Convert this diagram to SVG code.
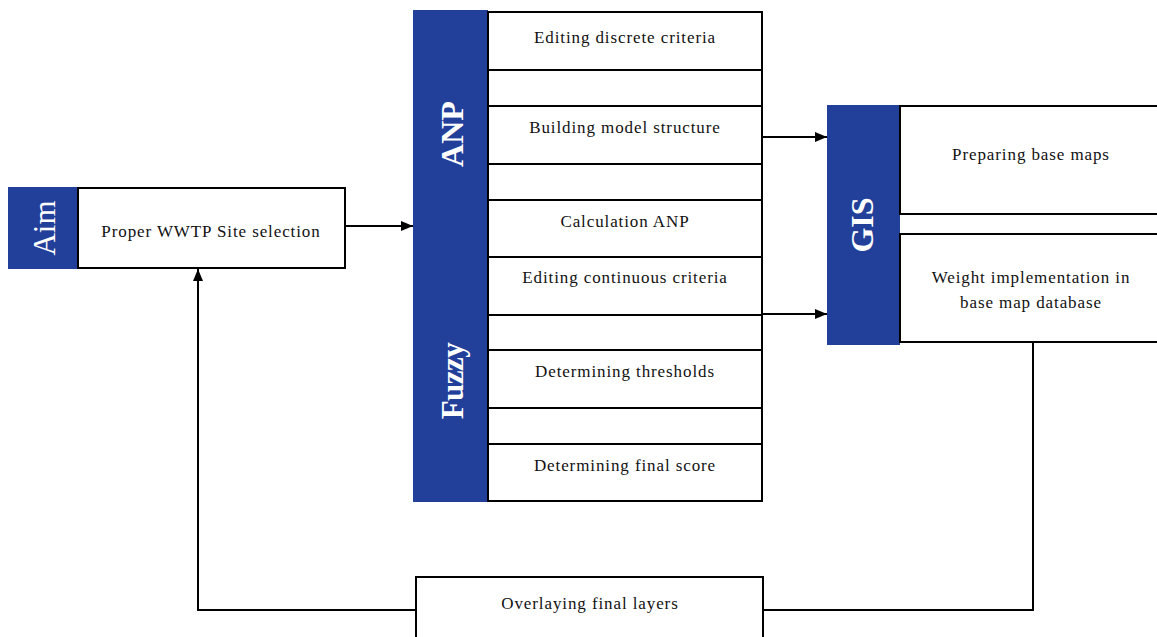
<svg xmlns="http://www.w3.org/2000/svg" width="1157" height="637" viewBox="0 0 1157 637">
<defs>
<marker id="ah" markerWidth="12" markerHeight="10" refX="12" refY="5" orient="auto" markerUnits="userSpaceOnUse">
<path d="M0,0 L12,5 L0,10 Z" fill="#000"/>
</marker>
<style>
.blue{fill:#22409a}
.box{fill:#fff;stroke:#000;stroke-width:2}
.ln{stroke:#000;stroke-width:2;fill:none}
.t{font-family:"Liberation Serif",serif;font-size:17px;fill:#111;text-anchor:middle;letter-spacing:0.9px}
.lab{font-family:"Liberation Serif",serif;fill:#fff;text-anchor:middle;dominant-baseline:central}
</style>
</defs>
<rect width="1157" height="637" fill="#fff"/>
<g id="connectors">
<line class="ln" x1="345" y1="226" x2="413" y2="226" marker-end="url(#ah)"/>
<line class="ln" x1="762" y1="137" x2="827" y2="137" marker-end="url(#ah)"/>
<line class="ln" x1="762" y1="314" x2="827" y2="314" marker-end="url(#ah)"/>
<polyline class="ln" points="1033,342 1033,610 763,610"/>
<polyline class="ln" points="416,610 198,610 198,269" marker-end="url(#ah)"/>
</g>
<g id="aim">
<rect class="blue" x="8" y="187" width="71" height="82"/>
<text class="lab" transform="translate(44,228) rotate(-90)" font-size="31">Aim</text>
</g>
<g id="proper">
<rect class="box" x="78" y="188" width="267" height="80"/>
<text class="t" x="211" y="237">Proper WWTP Site selection</text>
</g>
<g id="anp-fuzzy">
<rect class="blue" x="413" y="10" width="75" height="492"/>
<text class="lab" transform="translate(452,134) rotate(-90)" font-size="32" font-weight="bold">ANP</text>
<text class="lab" transform="translate(452,381) rotate(-90)" font-size="31" font-weight="bold" letter-spacing="-0.5">Fuzzy</text>
</g>
<g id="steps">
<rect class="box" x="488" y="12" width="274" height="489"/>
<line class="ln" x1="488" y1="70" x2="762" y2="70"/>
<line class="ln" x1="488" y1="106" x2="762" y2="106"/>
<line class="ln" x1="488" y1="164" x2="762" y2="164"/>
<line class="ln" x1="488" y1="200" x2="762" y2="200"/>
<line class="ln" x1="488" y1="257" x2="762" y2="257"/>
<line class="ln" x1="488" y1="315" x2="762" y2="315"/>
<line class="ln" x1="488" y1="350" x2="762" y2="350"/>
<line class="ln" x1="488" y1="408" x2="762" y2="408"/>
<line class="ln" x1="488" y1="444" x2="762" y2="444"/>
<text class="t" x="625" y="43">Editing discrete criteria</text>
<text class="t" x="625" y="133">Building model structure</text>
<text class="t" x="625" y="227">Calculation ANP</text>
<text class="t" x="625" y="283">Editing continuous criteria</text>
<text class="t" x="625" y="377">Determining thresholds</text>
<text class="t" x="625" y="471">Determining final score</text>
</g>
<g id="gis">
<rect class="blue" x="827" y="105" width="73" height="240"/>
<text class="lab" transform="translate(862,225) rotate(-90)" font-size="32" font-weight="bold">GIS</text>
</g>
<g id="prep">
<rect class="box" x="900" y="106" width="270" height="108"/>
<text class="t" x="1031" y="160">Preparing base maps</text>
</g>
<g id="weight">
<rect class="box" x="900" y="234" width="270" height="108"/>
<text class="t" x="1031" y="283">Weight implementation in</text>
<text class="t" x="1031" y="308">base map database</text>
</g>
<g id="overlay">
<rect class="box" x="416" y="577" width="347" height="80"/>
<text class="t" x="590" y="609" letter-spacing="0" font-size="17.5">Overlaying final layers</text>
</g>
</svg>
